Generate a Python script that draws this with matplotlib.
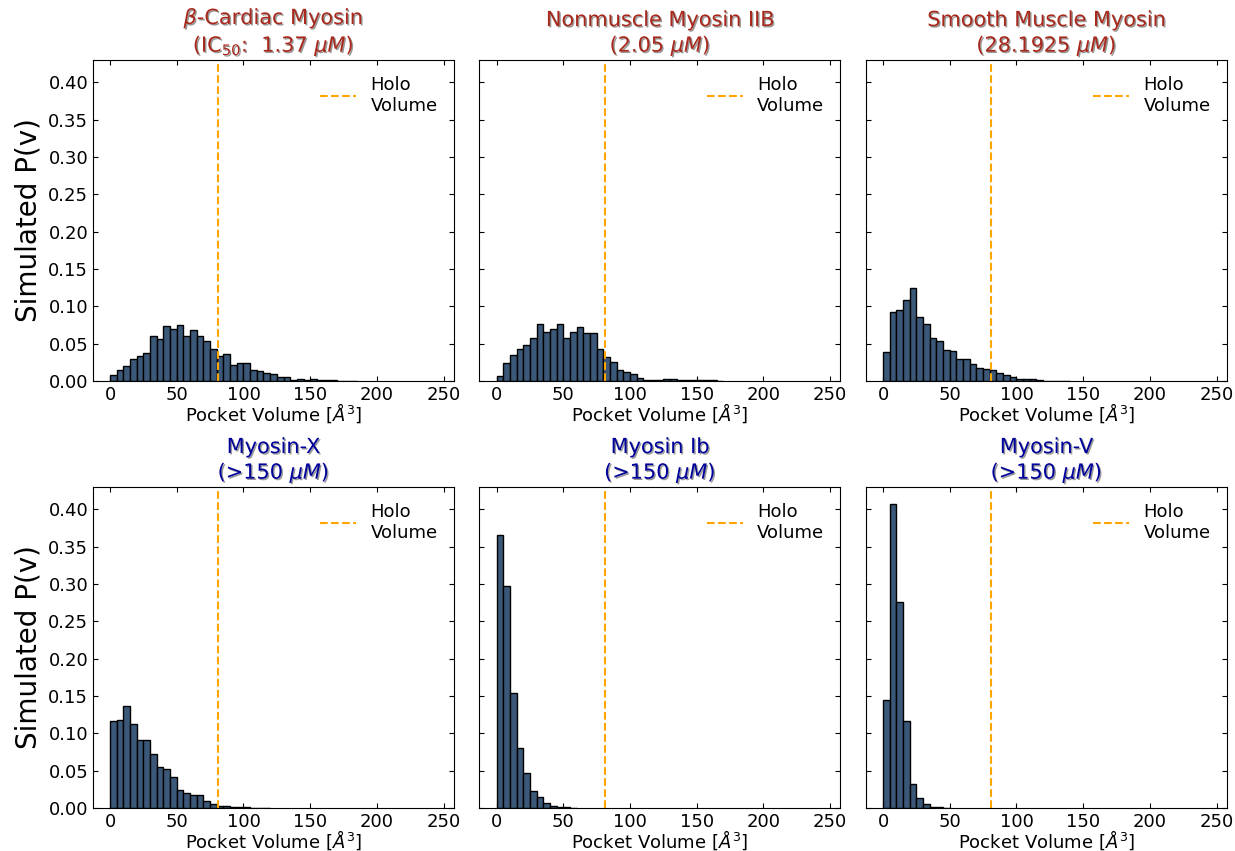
import numpy as np
import matplotlib
matplotlib.use("Agg")
import matplotlib.pyplot as plt
import matplotlib.patheffects as pe

# histogram heights, bins of 5 A^3 starting at 0
bin_width = 5
holo_volume = 81

cardiac = [0.0076, 0.0147, 0.0196, 0.0289, 0.0329, 0.0382, 0.0609, 0.0569, 0.0742, 0.0702,
           0.0756, 0.0604, 0.0680, 0.0604, 0.0533, 0.0431, 0.0329, 0.0356, 0.0209, 0.0240,
           0.0240, 0.0147, 0.0129, 0.0102, 0.0098, 0.0049, 0.0049, 0.0013, 0.0027, 0.0018,
           0.0022, 0.0009, 0.0009, 0.0009, 0.0004, 0.0004, 0.0003]
nonmuscle = [0.0062, 0.0244, 0.0351, 0.0427, 0.0480, 0.0573, 0.0760, 0.0653, 0.0702, 0.0769,
             0.0578, 0.0653, 0.0724, 0.0640, 0.0649, 0.0427, 0.0320, 0.0253, 0.0151, 0.0124,
             0.0089, 0.0044, 0.0018, 0.0018, 0.0018, 0.0027, 0.0027, 0.0013, 0.0009, 0.0009,
             0.0009, 0.0018, 0.0009, 0.0004]
smooth = [0.0391, 0.0924, 0.0947, 0.1080, 0.1249, 0.0862, 0.0764, 0.0573, 0.0542, 0.0422,
          0.0396, 0.0289, 0.0289, 0.0222, 0.0169, 0.0160, 0.0151, 0.0102, 0.0076, 0.0058,
          0.0031, 0.0022, 0.0022, 0.0009, 0.0004, 0.0003, 0.0003, 0.0002]
myosin_x = [0.1164, 0.1173, 0.1360, 0.1120, 0.0910, 0.0910, 0.0718, 0.0544, 0.0526, 0.0415,
            0.0241, 0.0196, 0.0170, 0.0170, 0.0089, 0.0054, 0.0031, 0.0031, 0.0009, 0.0013,
            0.0009, 0.0004, 0.0003, 0.0002]
myosin_ib = [0.3660, 0.2980, 0.1534, 0.0803, 0.0464, 0.0227, 0.0152, 0.0071, 0.0027, 0.0018,
             0.0009, 0.0004]
myosin_v = [0.1445, 0.4077, 0.2761, 0.1169, 0.0321, 0.0129, 0.0054, 0.0009, 0.0009, 0.0004]

panel_data = [cardiac, nonmuscle, smooth, myosin_x, myosin_ib, myosin_v]
panel_titles = [
    "$\\beta$-Cardiac Myosin\n(IC$_{50}$:  1.37 $\\mu M$)",
    "Nonmuscle Myosin IIB\n(2.05 $\\mu M$)",
    "Smooth Muscle Myosin\n(28.1925 $\\mu M$)",
    "Myosin-X\n(>150 $\\mu M$)",
    "Myosin Ib\n(>150 $\\mu M$)",
    "Myosin-V\n(>150 $\\mu M$)",
]
title_colors = ["#a8281c"] * 3 + ["#00009b"] * 3

fig, axes = plt.subplots(2, 3, figsize=(12.35, 8.51), dpi=100, sharey=True)
fig.subplots_adjust(left=0.0753, right=0.9935, bottom=0.0505, top=0.9295,
                    wspace=0.0706, hspace=0.33)

for i, ax in enumerate(axes.flat):
    heights = np.array(panel_data[i])
    lefts = np.arange(len(heights)) * bin_width
    ax.bar(lefts, heights, width=bin_width, align='edge', color='#3b5878',
           edgecolor='black', linewidth=1.0)
    ax.axvline(holo_volume, color='orange', linestyle='--', linewidth=1.5,
               label='Holo\nVolume')

    ax.set_xlim(-12.8, 257.8)
    ax.set_ylim(0, 0.43)
    ax.set_xticks(np.arange(0, 251, 50))
    ax.set_yticks(np.arange(0, 0.41, 0.05))
    ax.yaxis.set_major_formatter(matplotlib.ticker.FormatStrFormatter('%.2f'))
    ax.tick_params(direction='in', top=True, right=True, labelsize=13)
    ax.set_xlabel("Pocket Volume [$\\AA^3$]", fontsize=13, labelpad=-1.5)

    t = ax.set_title(panel_titles[i], fontsize=15, color=title_colors[i])
    t.set_path_effects([pe.withSimplePatchShadow(offset=(1, -1), shadow_rgbFace='gray', alpha=0.8)])

    ax.legend(loc='upper right', frameon=False, fontsize=13)

    if i % 3 == 0:
        ax.set_ylabel("Simulated P(v)", fontsize=20)

plt.savefig("out.png", dpi=100)
plt.close()
